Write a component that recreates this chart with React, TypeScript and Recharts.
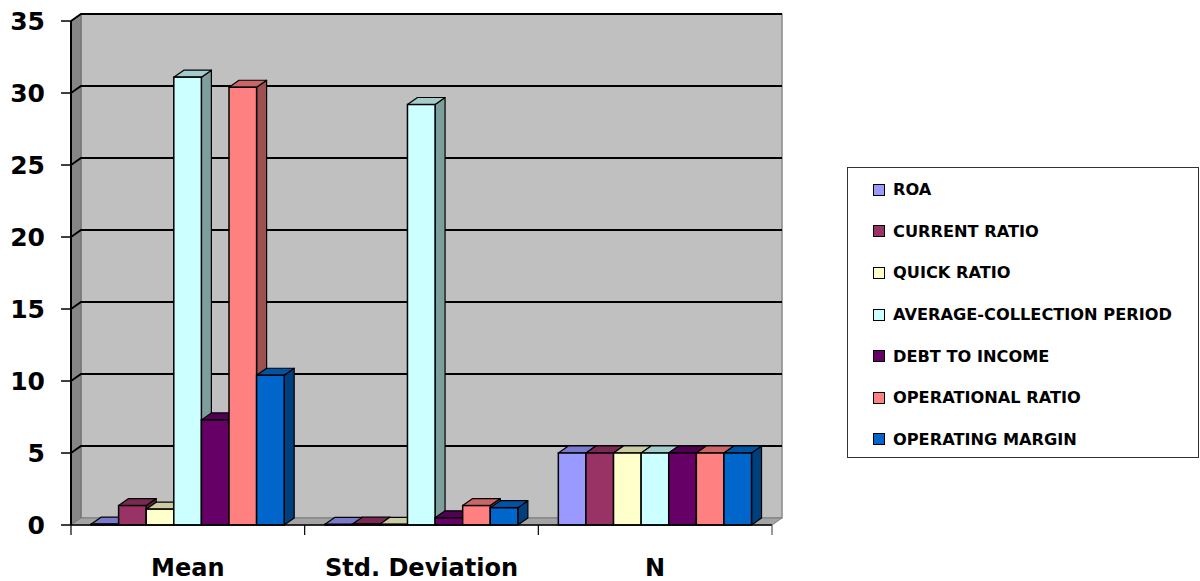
import React from 'react';
import { BarChart, Bar, XAxis, YAxis, CartesianGrid, Legend } from 'recharts';

const categories = ['Mean', 'Std. Deviation', 'N'];
const roa = [0.06, 0.04, 5];
const currentRatio = [1.35, 0.06, 5];
const quickRatio = [1.1, 0.05, 5];
const avgCollectionPeriod = [31.1, 29.2, 5];
const debtToIncome = [7.3, 0.5, 5];
const operationalRatio = [30.4, 1.35, 5];
const operatingMargin = [10.4, 1.2, 5];

const seriesNames = [
  'ROA',
  'CURRENT RATIO',
  'QUICK RATIO',
  'AVERAGE-COLLECTION PERIOD',
  'DEBT TO INCOME',
  'OPERATIONAL RATIO',
  'OPERATING MARGIN',
];
const seriesColors = ['#9999FF', '#993366', '#FFFFCC', '#CCFFFF', '#660066', '#FF8080', '#0066CC'];
const seriesValues = [roa, currentRatio, quickRatio, avgCollectionPeriod, debtToIncome, operationalRatio, operatingMargin];
const yTicks = [0, 5, 10, 15, 20, 25, 30, 35];

const data = categories.map((c, i) => {
  const row: any = { name: c };
  seriesNames.forEach((_, j) => {
    row['s' + j] = seriesValues[j][i];
  });
  return row;
});

const DX = 10;
const DY = 7;
const FONT = '"DejaVu Sans", Verdana, sans-serif';

function shade(hex: string, f: number) {
  const h = hex.replace('#', '');
  const r = Math.round(parseInt(h.slice(0, 2), 16) * f);
  const g = Math.round(parseInt(h.slice(2, 4), 16) * f);
  const b = Math.round(parseInt(h.slice(4, 6), 16) * f);
  return `rgb(${r},${g},${b})`;
}

function Bar3D(props: any) {
  const { x, y, width, height, fill } = props;
  if (x == null || y == null || !width || height == null) return <g />;
  const top = `${x},${y} ${x + DX},${y - DY} ${x + width + DX},${y - DY} ${x + width},${y}`;
  const side = `${x + width},${y} ${x + width + DX},${y - DY} ${x + width + DX},${y + height - DY} ${x + width},${y + height}`;
  return (
    <g>
      <polygon points={side} fill={shade(fill, 0.62)} stroke="#000" strokeWidth={1.2} strokeLinejoin="round" />
      <polygon points={top} fill={shade(fill, 0.8)} stroke="#000" strokeWidth={1.2} strokeLinejoin="round" />
      <rect x={x} y={y} width={width} height={height} fill={fill} stroke="#000" strokeWidth={1.5} />
    </g>
  );
}

function WallRenderer(props: any) {
  const { x, y, width, height, index, key } = props;
  if (index !== 0) return <g key={key} />;
  const left = `${x},${y} ${x + DX},${y - DY} ${x + DX},${y + height - DY} ${x},${y + height}`;
  const floor = `${x},${y + height} ${x + DX},${y + height - DY} ${x + width + DX},${y + height - DY} ${x + width},${y + height}`;
  return (
    <g key={key}>
      <rect x={x + DX} y={y - DY} width={width} height={height} fill="#c0c0c0" stroke="#8a8a8a" strokeWidth={1.5} />
      <polygon points={left} fill="#868686" stroke="#6e6e6e" strokeWidth={1} />
      <polygon points={floor} fill="#a4a4a4" stroke="#7c7c7c" strokeWidth={1} />
    </g>
  );
}

function GridLineRenderer(props: any) {
  const { x1, y1, x2, y, height, key } = props;
  if (Math.abs(y1 - (y + height)) < 0.5) return <g key={key} />;
  return (
    <polyline
      key={key}
      points={`${x1},${y1} ${x1 + DX},${y1 - DY} ${x2 + DX},${y1 - DY}`}
      fill="none"
      stroke="#000"
      strokeWidth={2}
    />
  );
}

function CategoryTick(props: any) {
  const { x, y, payload } = props;
  const half = payload && typeof payload.offset === 'number' ? payload.offset : 0;
  const isLast = payload && payload.value === categories[categories.length - 1];
  return (
    <g>
      <line x1={x - half} y1={y - 10} x2={x - half} y2={y} stroke="#000" strokeWidth={1.2} />
      {isLast && <line x1={x + half} y1={y - 10} x2={x + half} y2={y} stroke="#555" strokeWidth={1.2} />}
      <text x={x} y={y + 41} textAnchor="middle" fontFamily={FONT} fontWeight="bold" fontSize={24} fill="#000">
        {payload.value}
      </text>
    </g>
  );
}

function LegendBox(props: any) {
  const payload = [...(props.payload || [])].sort(
    (a: any, b: any) => seriesNames.indexOf(a.value) - seriesNames.indexOf(b.value)
  );
  return (
    <div
      style={{
        boxSizing: 'border-box',
        width: 352,
        height: 291,
        border: '1.5px solid #333',
        background: '#fff',
        paddingTop: 1,
      }}
    >
      {payload.map((p: any, i: number) => (
        <div
          key={i}
          style={{
            display: 'flex',
            alignItems: 'center',
            height: 41.6,
            paddingLeft: 25,
            fontFamily: FONT,
            fontWeight: 'bold',
            fontSize: 16.2,
            color: '#000',
            whiteSpace: 'nowrap',
          }}
        >
          <span
            style={{
              display: 'inline-block',
              boxSizing: 'border-box',
              width: 12,
              height: 12,
              background: p.color,
              border: '1.5px solid #000',
              marginRight: 8,
            }}
          />
          {p.value}
        </div>
      ))}
    </div>
  );
}

export default function App() {
  return (
    <div style={{ position: 'absolute', left: 0, top: 0, width: 1200, height: 581, background: '#fff' }}>
      <BarChart
        width={1200}
        height={581}
        data={data}
        margin={{ top: 21, right: 428, bottom: 26, left: 0 }}
        barGap={0}
        barSize={27.6}
      >
        <CartesianGrid vertical={false} horizontal={WallRenderer} />
        <CartesianGrid vertical={false} horizontal={GridLineRenderer} />
        <XAxis
          dataKey="name"
          height={30}
          tickLine={false}
          tickSize={10}
          tickMargin={0}
          axisLine={{ stroke: '#000', strokeWidth: 1.5 }}
          tick={<CategoryTick />}
          interval={0}
        />
        <YAxis
          width={71}
          domain={[0, 35]}
          ticks={yTicks}
          interval={0}
          tickSize={10}
          tickMargin={16}
          axisLine={{ stroke: '#000', strokeWidth: 2 }}
          tickLine={{ stroke: '#000', strokeWidth: 1.5 }}
          tick={{ fill: '#000', fontSize: 25, fontWeight: 'bold', fontFamily: FONT }}
        />
        {seriesNames.map((name, j) => (
          <Bar
            key={name}
            dataKey={'s' + j}
            name={name}
            fill={seriesColors[j]}
            shape={<Bar3D />}
            isAnimationActive={false}
          />
        ))}
        <Legend
          layout="vertical"
          align="center"
          verticalAlign="middle"
          itemSorter={null as any}
          content={<LegendBox />}
          wrapperStyle={{ left: 847, top: 167, width: 352, height: 291 }}
        />
      </BarChart>
    </div>
  );
}
